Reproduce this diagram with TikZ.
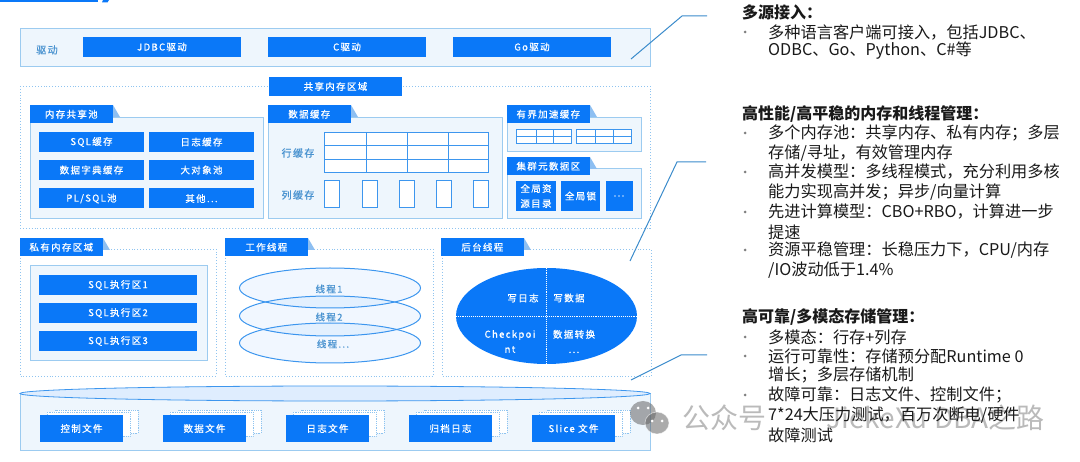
\documentclass[tikz,border=0pt]{standalone}
\usepackage{fontspec}
\setmainfont{Noto Sans CJK SC}
\newfontfamily\boxfont[LetterSpace=14,FakeBold=0.7]{Noto Sans CJK SC}
\usetikzlibrary{shapes.geometric}
\definecolor{mainblue}{HTML}{0A78F8}
\definecolor{paleblue}{HTML}{EEF6FD}
\definecolor{midblue}{HTML}{9CCBF0}
\definecolor{dotblue}{HTML}{8FC4F0}
\definecolor{inkblue}{HTML}{4A93D0}
\definecolor{lineblue}{HTML}{3A8BCB}
\definecolor{cellline}{HTML}{3D96EE}
\definecolor{foldblue}{HTML}{8DBFF2}
\tikzset{
  bluebox/.style={fill=mainblue,text=white,inner sep=0pt,align=center,font=\boxfont\fontsize{9.5}{15}\selectfont},
  panel/.style={draw=midblue,fill=paleblue,line width=0.9pt},
  dotbox/.style={draw=dotblue,dotted,line width=0.9pt},
  gridline/.style={draw=cellline,line width=1pt},
  sideinfo/.style={text=inkblue,font=\boxfont\fontsize{10}{12}\selectfont,inner sep=0pt},
  callout/.style={draw=lineblue,line width=1pt},
  headline/.style={anchor=west,inner sep=0pt,font=\bfseries\fontsize{16}{19}\selectfont,text=black!90},
  bodyline/.style={anchor=west,inner sep=0pt,font=\fontsize{16.2}{19}\selectfont,text=black!90},
  marker/.style={circle,fill=black!50,inner sep=0pt,minimum size=3pt},
  threadring/.style={ellipse,draw=cellline,fill=mainblue,fill opacity=0.06,line width=1pt,inner sep=0pt,minimum width=181pt,minimum height=40pt},
  threadtext/.style={text=inkblue,font=\boxfont\fontsize{9.5}{12}\selectfont,inner sep=0pt},
  whitetext/.style={text=white,font=\boxfont\fontsize{9.5}{15}\selectfont,inner sep=0pt,align=center},
  sheet/.style={draw=dotblue,densely dotted,fill=white,line width=0.8pt},
  mark text/.style={text=black!60,opacity=0.45,font=\fontsize{28}{30}\selectfont,inner sep=0pt}
}
% tab with the little fold at its right end
\newcommand{\tabhead}[4]{
  \fill[foldblue] (#2,#3) -- (#2+7,#3+12) -- (#2,#3+12) -- cycle;
  \node[bluebox,anchor=north east,minimum width=83pt,minimum height=18pt] (#1) at (#2,#3) {#4};
}
\begin{document}
\begin{tikzpicture}[x=1pt,y=-1pt]
  \useasboundingbox (0,0) rectangle (1080,462);
  \fill[mainblue] (0,0) rectangle (98,2.5);
  \fill[mainblue] (103,0) -- (109,0) -- (107.5,2.5) -- (102,2.5) -- cycle;

  % driver row
  \draw[panel] (20,28) rectangle (650,66);
  \node[sideinfo] (driver) at (47,50) {驱动};
  \node[bluebox,minimum width=158pt,minimum height=20pt] (jdbc) at (162,47) {JDBC驱动};
  \node[bluebox,minimum width=158pt,minimum height=20pt] (cdrv) at (347,47) {C驱动};
  \node[bluebox,minimum width=158pt,minimum height=20pt] (godrv) at (532,47) {Go驱动};

  % shared memory
  \draw[dotbox] (20,86) rectangle (650,228);
  \node[bluebox,minimum width=133pt,minimum height=19pt] (shared) at (335.5,86.5) {共享内存区域};

  \draw[panel] (30,117) rectangle (263,218);
  \tabhead{pooltab}{113}{105}{内存共享池}
  \foreach \name/\xx/\yy/\txt in {sqlc/91.5/142/SQL缓存,logc/201.5/142/日志缓存,dictc/91.5/170/数据字典缓存,
      large/201.5/170/大对象池,plsql/91.5/198.5/{PL/SQL池},other/201.5/198.5/{其他...}}
    \node[bluebox,minimum width=105pt,minimum height=20pt] (\name) at (\xx,\yy) {\txt};

  \draw[panel] (268,117) rectangle (502,218);
  \tabhead{datatab}{351}{105}{数据缓存}
  \node[sideinfo] (rowlab) at (298,153) {行缓存};
  \node[sideinfo] (collab) at (298,195) {列缓存};
  \draw[gridline,fill=white] (324,132.5) rectangle (488,173);
  \foreach \xx in {366,407,448}
    \draw[gridline] (\xx,132.5) -- (\xx,173);
  \foreach \yy in {146,159.5}
    \draw[gridline] (324,\yy) -- (488,\yy);
  \foreach \xx in {324,362,399,436,473}
    \draw[gridline,fill=white] (\xx,181) rectangle (\xx+15,208);

  \draw[panel] (507,117) rectangle (641,151);
  \tabhead{acceltab}{590}{105}{有界加速缓存}
  \foreach \xa/\xb/\xc/\xd in {516/536/553/571,576/595/613/631}{
    \draw[gridline,fill=white] (\xa,129.5) rectangle (\xd,144);
    \draw[gridline] (\xb,129.5) -- (\xb,144);
    \draw[gridline] (\xc,129.5) -- (\xc,144);
    \draw[gridline] (\xa,137) -- (\xd,137);
  }

  \draw[panel] (507,168) rectangle (641,218);
  \tabhead{metatab}{590}{157}{集群元数据区}
  \node[bluebox,minimum width=40pt,minimum height=30pt] (gres) at (536,196) {全局资\\源目录};
  \node[bluebox,minimum width=39pt,minimum height=30pt] (glock) at (580.5,196) {全局锁};
  \node[bluebox,minimum width=27pt,minimum height=30pt] (gmore) at (619,196) {...};

  % private memory
  \draw[dotbox] (20,249) rectangle (216,376);
  \tabhead{privtab}{103}{238}{私有内存区域}
  \draw[panel] (30,265) rectangle (207,360);
  \foreach \name/\yy/\txt in {exec1/285/SQL执行区1,exec2/313/SQL执行区2,exec3/341/SQL执行区3}
    \node[bluebox,minimum width=158pt,minimum height=20pt] (\name) at (118,\yy) {\txt};

  % worker threads
  \draw[dotbox] (225,249) rectangle (433,376);
  \tabhead{worktab}{308}{238}{工作线程}
  \node[threadring] (ring1) at (330,288) {};
  \node[threadring] (ring2) at (330,316) {};
  \node[threadring] (ring3) at (330,343) {};
  \node[threadtext] (thr1) at (329,289) {线程1};
  \node[threadtext] (thr2) at (329,317) {线程2};
  \node[threadtext] (thr3) at (333,344) {线程...};

  % background threads
  \draw[dotbox] (442,249) rectangle (651,376);
  \tabhead{backtab}{524}{238}{后台线程}
  \node[ellipse,fill=mainblue,inner sep=0pt,minimum width=181pt,minimum height=96pt] (backpool) at (546.5,316) {};
  \draw[white,densely dotted,line width=0.9pt] (backpool.north) -- (backpool.south);
  \draw[white,densely dotted,line width=0.9pt] (backpool.west) -- (backpool.east);
  \node[whitetext] (wlog) at (523,298) {写日志};
  \node[whitetext] (wdata) at (569,298) {写数据};
  \node[whitetext] (ckpt) at (510,341.5) {Checkpoi\\nt};
  \node[whitetext] (conv) at (574,341.5) {数据转换\\...};

  % storage cylinder
  \fill[paleblue] (20,393) -- (20,450) -- (650,450) -- (650,393) -- cycle;
  \draw[midblue,line width=0.9pt] (20,393) -- (20,450) -- (650,450) -- (650,393);
  \draw[cellline,fill=mainblue!13,line width=0.8pt] (335,393.5) ellipse [x radius=315pt,y radius=7.5pt];
  \foreach \name/\xx/\txt in {ctl/81.5/控制文件,dat/204.5/数据文件,lgf/327.5/日志文件,arc/450.5/归档日志,slc/573.5/Slice 文件}{
    \draw[sheet] (\xx-26.5,410) rectangle (\xx+56.5,433);
    \draw[sheet] (\xx-34.5,412.5) rectangle (\xx+48.5,436);
    \node[bluebox,minimum width=83pt,minimum height=27pt] (\name) at (\xx,428.5) {\txt};
  }

  % callouts
  \coordinate (p1a) at (631,59);
  \coordinate (p1b) at (682,16);
  \coordinate (p1c) at (707,16);
  \coordinate (p2a) at (630,261);
  \coordinate (p2b) at (677,162);
  \coordinate (p2c) at (706,162);
  \coordinate (p3a) at (631,380);
  \coordinate (p3b) at (681,355);
  \coordinate (p3c) at (707,355);
  \draw[callout] (p1a) -- (p1b) -- (p1c);
  \draw[callout] (p2a) -- (p2b) -- (p2c);
  \draw[callout] (p3a) -- (p3b) -- (p3c);

  % watermark
  \fill[black!60,opacity=0.55] (643,413) ellipse [x radius=13pt,y radius=12pt];
  \fill[black!60,opacity=0.55,draw=white,line width=0.7pt] (657,423) ellipse [x radius=12pt,y radius=11pt];
  \foreach \xx/\yy in {638/408,648/408,652/421,662/421}
    \fill[white] (\xx,\yy) circle (1.5pt);
  \node[mark text,anchor=west] (wm1) at (682,418) {公众号};
  \node[mark text,anchor=east] (wm2) at (1045,418) {JiekeXu DBA之路};

  % right column
  \node[headline] (h1) at (742,12) {多源接入：};
  \node[headline] (h2) at (742,114) {高性能/高平稳的内存和线程管理：};
  \node[headline] (h3) at (742,317) {高可靠/多模态存储管理：};
  \foreach \name/\yy/\txt in {
      a1/32/{多种语言客户端可接入，包括JDBC、},a2/51/{ODBC、Go、Python、C\#等},
      b1/133/{多个内存池：共享内存、私有内存；多层},b2/153/{存储/寻址，有效管理内存},
      b3/172/{高并发模型：多线程模式，充分利用多核},b4/192/{能力实现高并发；异步/向量计算},
      b5/212/{先进计算模型：CBO+RBO，计算进一步},b6/232/{提速},
      b7/250/{资源平稳管理：长稳压力下，CPU/内存},b8/270/{/IO波动低于1.4\%},
      c1/337/{多模态：行存+列存},c2/356/{运行可靠性：存储预分配Runtime 0},c3/375/{增长；多层存储机制},
      c4/395/{故障可靠：日志文件、控制文件；},c5/415/{7*24大压力测试，百万次断电/硬件},c6/435/{故障测试}}
    \node[bodyline] (\name) at (768,\yy) {\txt};
  \foreach \yy [count=\i] in {32,133,172,212,250,337,356,395}
    \node[marker] (bul\i) at (745,\yy) {};
\end{tikzpicture}
\end{document}
